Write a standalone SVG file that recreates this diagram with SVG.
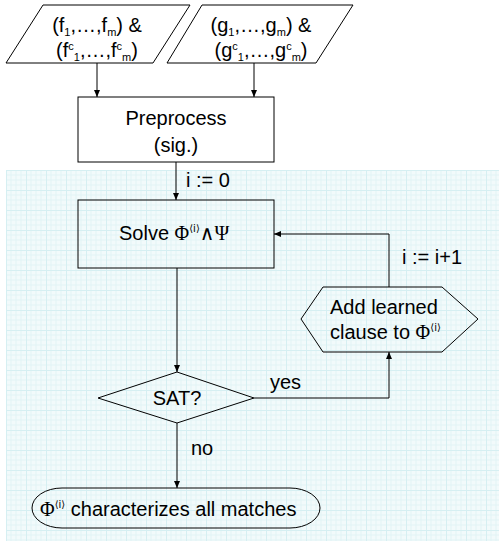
<svg xmlns="http://www.w3.org/2000/svg" width="499" height="542" viewBox="0 0 499 542">
<style>
text{font-family:"Liberation Sans",Arial,sans-serif;font-size:20px;fill:#000}
.c{text-anchor:middle}
.sym{font-family:"Liberation Serif","DejaVu Serif",serif}
.sup{font-family:"DejaVu Sans",sans-serif;font-size:10px}
.sb{font-size:11px}
.sh{fill:#fff;stroke:#000;stroke-width:1}
.sh2{fill:none;stroke:#000;stroke-width:1}
.ln{fill:none;stroke:#000;stroke-width:1}
</style>
<defs>
<pattern id="grid" width="20" height="20" patternUnits="userSpaceOnUse" x="6" y="170">
<rect width="20" height="20" fill="#f2fafb"/>
<path d="M5 0V20M10 0V20M15 0V20M0 5H20M0 10H20M0 15H20" stroke="#e3f4f6" stroke-width="1"/>
<path d="M0.5 0V20M0 0.5H20" stroke="#d6eff2" stroke-width="1"/>
</pattern>
<marker id="ah" markerWidth="8" markerHeight="8" refX="7" refY="4" orient="auto" markerUnits="userSpaceOnUse">
<path d="M0,1 L7,4 L0,7 Z" fill="#000"/>
</marker>
</defs>
<rect x="6" y="170" width="493" height="371" fill="url(#grid)"/>
<g id="connectors">
<line class="ln" x1="97" y1="63" x2="97" y2="97" marker-end="url(#ah)"/>
<line class="ln" x1="254" y1="63" x2="254" y2="97" marker-end="url(#ah)"/>
<line class="ln" x1="176" y1="162" x2="176" y2="200" marker-end="url(#ah)"/>
<line class="ln" x1="177" y1="268" x2="177" y2="372" marker-end="url(#ah)"/>
<line class="ln" x1="177" y1="423" x2="177" y2="488" marker-end="url(#ah)"/>
<polyline class="ln" points="254,398 389,398 389,352" marker-end="url(#ah)"/>
<polyline class="ln" points="389,287 389,234 274,234" marker-end="url(#ah)"/>
<text x="186" y="187">i := 0</text>
<text x="402" y="264">i := i+1</text>
<text x="270" y="389">yes</text>
<text x="191" y="455">no</text>
</g>
<g id="input-f">
<polygon class="sh" points="43,5 190,5 153,63 6,63"/>
<text class="c" x="97" y="32">(f<tspan class="sb" dy="4">1</tspan><tspan dy="-4">,…,f</tspan><tspan class="sb" dy="4">m</tspan><tspan dy="-4">) &amp;</tspan></text>
<text class="c" x="97" y="57">(f<tspan class="sb" dy="-7">c</tspan><tspan class="sb" dy="11">1</tspan><tspan dy="-4">,…,f</tspan><tspan class="sb" dy="-7">c</tspan><tspan class="sb" dy="11">m</tspan><tspan dy="-4">)</tspan></text>
</g>
<g id="input-g">
<polygon class="sh" points="202,5 353,5 316,63 167,63"/>
<text class="c" x="261" y="32">(g<tspan class="sb" dy="4">1</tspan><tspan dy="-4">,…,g</tspan><tspan class="sb" dy="4">m</tspan><tspan dy="-4">) &amp;</tspan></text>
<text class="c" x="261" y="57">(g<tspan class="sb" dy="-7">c</tspan><tspan class="sb" dy="11">1</tspan><tspan dy="-4">,…,g</tspan><tspan class="sb" dy="-7">c</tspan><tspan class="sb" dy="11">m</tspan><tspan dy="-4">)</tspan></text>
</g>
<g id="preprocess">
<rect class="sh" x="78" y="97" width="196" height="65"/>
<text class="c" x="176" y="125">Preprocess</text>
<text class="c" x="176" y="152">(sig.)</text>
</g>
<g id="solve">
<rect class="sh2" x="78" y="200" width="196" height="68"/>
<text x="119" y="240">Solve <tspan class="sym">Φ</tspan><tspan class="sup" dy="-8">⟨i⟩</tspan><tspan class="sym" dy="8">∧Ψ</tspan></text>
</g>
<g id="add-clause">
<polygon class="sh2" points="301,319 323,287 442,287 478,319 442,352 323,352"/>
<text x="330" y="314">Add learned</text>
<text x="330" y="339">clause to <tspan class="sym">Φ</tspan><tspan class="sup" dy="-8">⟨i⟩</tspan></text>
</g>
<g id="sat">
<polygon class="sh2" points="177,372 254,398 177,423 98,398"/>
<text class="c" x="177" y="405">SAT?</text>
</g>
<g id="result">
<path class="sh2" d="M62,488 H290 A30,20 0 0 1 290,528 H62 A30,20 0 0 1 62,488 Z"/>
<text x="40" y="516"><tspan class="sym">Φ</tspan><tspan class="sup" dy="-8">⟨i⟩</tspan><tspan dy="8"> characterizes all matches</tspan></text>
</g>
</svg>
